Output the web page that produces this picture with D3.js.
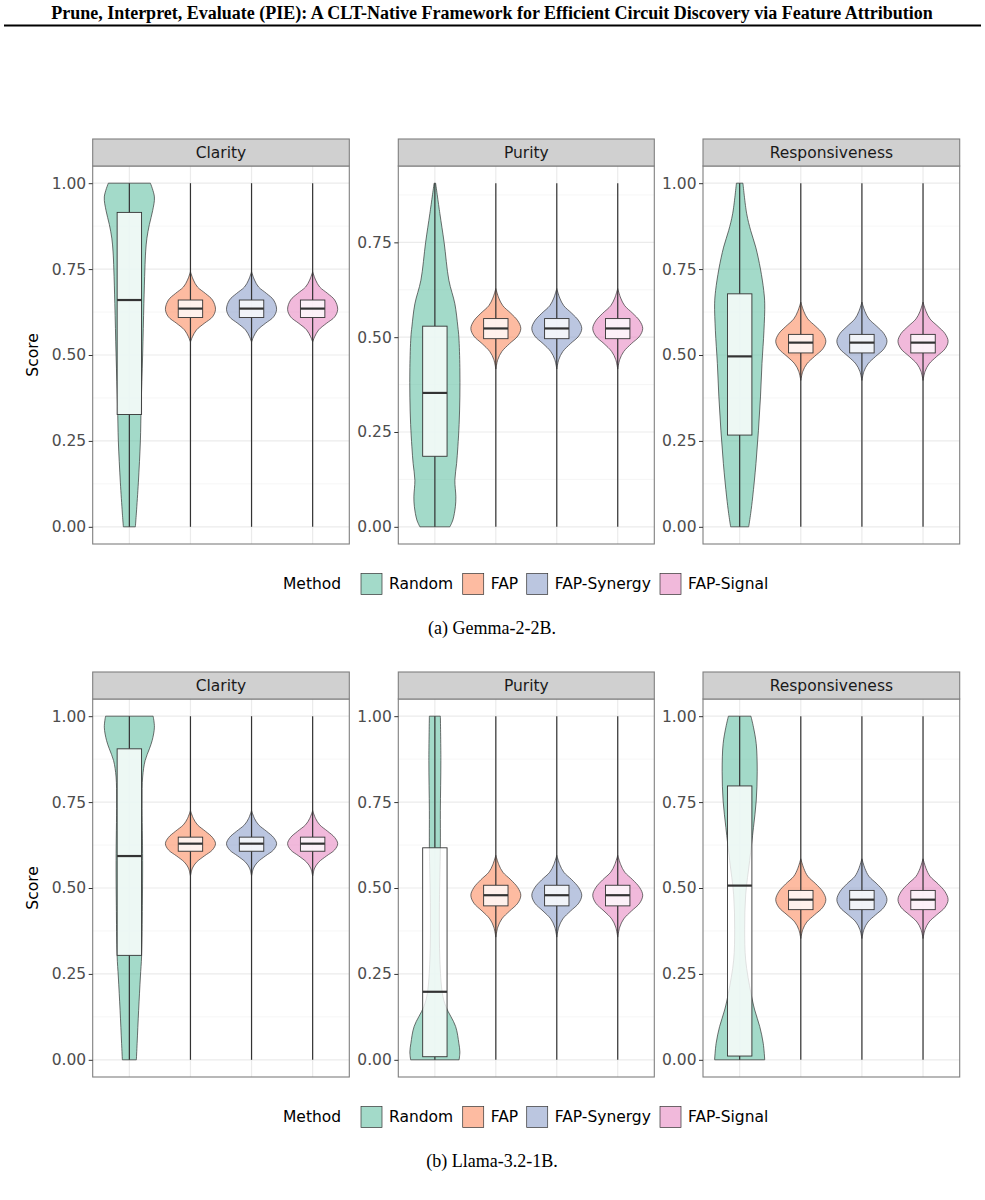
<!DOCTYPE html>
<html>
<head>
<meta charset="utf-8">
<script src="https://d3js.org/d3.v7.min.js"></script>
<style>
body { margin: 0; background: #fff; }
svg text { font-family: "DejaVu Sans", sans-serif; }
svg text.serif { font-family: "Liberation Serif", "Times New Roman", serif; }
</style>
</head>
<body>
<svg id="chart" width="985" height="1200"></svg>
<script>
// ---- data ----
const methods = ["Random", "FAP", "FAP-Synergy", "FAP-Signal"];
const metrics = ["Clarity", "Purity", "Responsiveness"];
const captions = ["(a) Gemma-2-2B.", "(b) Llama-3.2-1B."];
const fills = ["#66C2A5", "#FC8D62", "#8DA0CB", "#E78AC3"];
const yTicks = [0, 0.25, 0.5, 0.75, 1];

// box stats per method: [q1, median, q3, min, max]
const gemmaClarityBox = [[0.327,0.660,0.915,0,1],[0.609,0.635,0.660,0,1],[0.609,0.635,0.660,0,1],[0.609,0.635,0.660,0,1]];
const gemmaPurityBox  = [[0.186,0.353,0.529,0,0.906],[0.496,0.523,0.549,0,0.906],[0.496,0.523,0.549,0,0.906],[0.496,0.523,0.549,0,0.906]];
const gemmaRespBox    = [[0.267,0.496,0.678,0,1],[0.506,0.536,0.560,0,1],[0.506,0.536,0.560,0,1],[0.506,0.536,0.560,0,1]];
const llamaClarityBox = [[0.304,0.593,0.905,0,1],[0.607,0.629,0.648,0,1],[0.607,0.629,0.648,0,1],[0.607,0.629,0.648,0,1]];
const llamaPurityBox  = [[0.009,0.198,0.617,0,1],[0.448,0.479,0.508,0,1],[0.448,0.479,0.508,0,1],[0.448,0.479,0.508,0,1]];
const llamaRespBox    = [[0.011,0.507,0.797,0,1],[0.437,0.466,0.493,0,1],[0.437,0.466,0.493,0,1],[0.437,0.466,0.493,0,1]];

// violin profiles: [score, relative density]
const gemmaClarityRandom = [[1.00,0.84],[0.96,1.0],[0.92,0.93],[0.88,0.8],[0.84,0.7],[0.80,0.65],[0.75,0.62],[0.65,0.58],[0.50,0.53],[0.35,0.47],[0.25,0.44],[0.13,0.36],[0.04,0.28],[0.00,0.24]];
const gemmaClarityFap = [[0.742,0],[0.718,0.12],[0.698,0.28],[0.679,0.6],[0.660,0.88],[0.633,1.0],[0.611,0.88],[0.592,0.55],[0.573,0.24],[0.553,0.08],[0.538,0]];
const gemmaPurityRandom = [[0.906,0.03],[0.826,0.2],[0.750,0.37],[0.650,0.56],[0.588,0.8],[0.527,0.92],[0.500,0.96],[0.420,1.0],[0.342,1.0],[0.270,0.97],[0.211,0.92],[0.167,0.87],[0.123,0.8],[0.079,0.84],[0.053,0.82],[0.018,0.72],[0.0,0.6]];
const gemmaPurityFap = [[0.628,0],[0.603,0.12],[0.583,0.28],[0.563,0.6],[0.543,0.88],[0.523,1.0],[0.503,0.88],[0.483,0.55],[0.462,0.24],[0.441,0.08],[0.416,0]];
const gemmaRespRandom = [[1.0,0.13],[0.911,0.28],[0.862,0.44],[0.814,0.64],[0.750,0.83],[0.688,0.96],[0.649,1.0],[0.572,0.97],[0.475,0.89],[0.378,0.83],[0.281,0.75],[0.184,0.65],[0.087,0.52],[0.039,0.44],[0.0,0.36]];
const gemmaRespFap = [[0.654,0],[0.627,0.12],[0.605,0.28],[0.583,0.6],[0.562,0.88],[0.540,1.0],[0.518,0.88],[0.496,0.55],[0.474,0.24],[0.452,0.08],[0.426,0]];
const llamaClarityRandom = [[1.00,0.95],[0.968,1.0],[0.929,0.91],[0.905,0.8],[0.871,0.63],[0.823,0.53],[0.750,0.51],[0.580,0.53],[0.45,0.52],[0.304,0.49],[0.241,0.44],[0.144,0.37],[0.048,0.31],[0.0,0.28]];
const llamaClarityFap = [[0.725,0],[0.702,0.12],[0.684,0.28],[0.665,0.6],[0.647,0.88],[0.629,1.0],[0.611,0.88],[0.593,0.55],[0.575,0.24],[0.558,0.08],[0.535,0]];
const llamaPurityRandom = [[1.0,0.22],[0.871,0.24],[0.726,0.22],[0.62,0.22],[0.436,0.18],[0.291,0.2],[0.194,0.3],[0.155,0.44],[0.097,0.83],[0.048,0.96],[0.023,1.0],[0.0,0.97]];
const llamaPurityFap = [[0.595,0],[0.568,0.12],[0.546,0.28],[0.524,0.6],[0.501,0.88],[0.479,1.0],[0.456,0.88],[0.433,0.55],[0.410,0.24],[0.386,0.08],[0.357,0]];
const llamaRespRandom = [[1.0,0.45],[0.968,0.55],[0.92,0.66],[0.84,0.7],[0.753,0.66],[0.676,0.55],[0.58,0.4],[0.48,0.24],[0.38,0.2],[0.29,0.24],[0.194,0.45],[0.145,0.6],[0.097,0.8],[0.048,0.94],[0.0,1.0]];
const llamaRespFap = [[0.585,0],[0.557,0.12],[0.534,0.28],[0.512,0.6],[0.489,0.88],[0.466,1.0],[0.444,0.88],[0.422,0.55],[0.401,0.24],[0.379,0.08],[0.353,0]];

const panels = [
  {row: 0, col: 0, box: gemmaClarityBox, violins: [gemmaClarityRandom, gemmaClarityFap, gemmaClarityFap, gemmaClarityFap]},
  {row: 0, col: 1, box: gemmaPurityBox,  violins: [gemmaPurityRandom, gemmaPurityFap, gemmaPurityFap, gemmaPurityFap]},
  {row: 0, col: 2, box: gemmaRespBox,    violins: [gemmaRespRandom, gemmaRespFap, gemmaRespFap, gemmaRespFap]},
  {row: 1, col: 0, box: llamaClarityBox, violins: [llamaClarityRandom, llamaClarityFap, llamaClarityFap, llamaClarityFap]},
  {row: 1, col: 1, box: llamaPurityBox,  violins: [llamaPurityRandom, llamaPurityFap, llamaPurityFap, llamaPurityFap]},
  {row: 1, col: 2, box: llamaRespBox,    violins: [llamaRespRandom, llamaRespFap, llamaRespFap, llamaRespFap]}
];

// ---- layout ----
const svg = d3.select("#chart");
const panelX = [[92.7, 349.3], [398.3, 654.3], [703, 959.7]];
const rowTop = [139, 672];
const stripH = 27, plotH = 378;
const color = d3.scaleOrdinal().domain(methods).range(fills);

// header
svg.append("text").attr("class", "serif")
  .attr("x", 492).attr("y", 19)
  .attr("text-anchor", "middle")
  .style("font-weight", "bold").style("font-size", "18px")
  .text("Prune, Interpret, Evaluate (PIE): A CLT-Native Framework for Efficient Circuit Discovery via Feature Attribution");
svg.append("line").attr("x1", 4).attr("x2", 981).attr("y1", 25.5).attr("y2", 25.5)
  .attr("stroke", "#000").attr("stroke-width", 1.8);

panels.forEach(function(p) {
  const x0 = panelX[p.col][0], x1 = panelX[p.col][1];
  const top = rowTop[p.row] + stripH, bottom = rowTop[p.row] + stripH + plotH;
  const lo = d3.min(p.box, d => d[3]), hi = d3.max(p.box, d => d[4]);
  const pad = (hi - lo) * 0.05;
  const y = d3.scaleLinear().domain([lo - pad, hi + pad]).range([bottom, top]);
  const x = d3.scalePoint().domain(methods).range([x0, x1]).padding(0.6);
  const step = x.step();
  const w = d3.scaleLinear().domain([0, 1]).range([0, step * 0.41]);
  const g = svg.append("g");

  g.append("rect").attr("x", x0).attr("y", top).attr("width", x1 - x0).attr("height", plotH).attr("fill", "#fff");

  // grid
  const majors = yTicks.filter(t => t >= y.domain()[0] && t <= y.domain()[1]);
  const minors = d3.range(0.125, 1.2, 0.25).filter(t => t >= y.domain()[0] && t <= y.domain()[1]);
  g.selectAll(".minor").data(minors).enter().append("line")
    .attr("x1", x0).attr("x2", x1).attr("y1", d => y(d)).attr("y2", d => y(d))
    .attr("stroke", "#F2F2F2").attr("stroke-width", 0.7);
  g.selectAll(".major").data(majors).enter().append("line")
    .attr("x1", x0).attr("x2", x1).attr("y1", d => y(d)).attr("y2", d => y(d))
    .attr("stroke", "#EBEBEB").attr("stroke-width", 1.2);
  g.selectAll(".vgrid").data(methods).enter().append("line")
    .attr("x1", d => x(d)).attr("x2", d => x(d)).attr("y1", top).attr("y2", bottom)
    .attr("stroke", "#EBEBEB").attr("stroke-width", 1.2);

  // violins
  methods.forEach(function(m, i) {
    const cx = x(m);
    const prof = p.violins[i].slice().sort((a, b) => a[0] - b[0]);
    const area = d3.area()
      .y(d => y(d[0]))
      .x0(d => cx - w(d[1]))
      .x1(d => cx + w(d[1]))
      .curve(d3.curveCatmullRom.alpha(0.5));
    g.append("path").attr("d", area(prof))
      .attr("fill", color(m)).attr("fill-opacity", 0.6)
      .attr("stroke", "#333").attr("stroke-width", 0.7);
  });

  // boxes
  methods.forEach(function(m, i) {
    const cx = x(m), b = p.box[i], bw = step * 0.4;
    g.append("line").attr("x1", cx).attr("x2", cx).attr("y1", y(b[4])).attr("y2", y(b[2]))
      .attr("stroke", "#333").attr("stroke-width", 1.2);
    g.append("line").attr("x1", cx).attr("x2", cx).attr("y1", y(b[0])).attr("y2", y(b[3]))
      .attr("stroke", "#333").attr("stroke-width", 1.2);
    g.append("rect").attr("x", cx - bw / 2).attr("y", y(b[2]))
      .attr("width", bw).attr("height", y(b[0]) - y(b[2]))
      .attr("fill", "#fff").attr("fill-opacity", 0.8)
      .attr("stroke", "#333").attr("stroke-width", 0.9);
    g.append("line").attr("x1", cx - bw / 2).attr("x2", cx + bw / 2)
      .attr("y1", y(b[1])).attr("y2", y(b[1]))
      .attr("stroke", "#333").attr("stroke-width", 2.2);
  });

  // border + strip
  g.append("rect").attr("x", x0).attr("y", top).attr("width", x1 - x0).attr("height", plotH)
    .attr("fill", "none").attr("stroke", "#7F7F7F").attr("stroke-width", 1.1);
  g.append("rect").attr("x", x0).attr("y", rowTop[p.row]).attr("width", x1 - x0).attr("height", stripH)
    .attr("fill", "#D0D0D0").attr("stroke", "#7F7F7F").attr("stroke-width", 1.1);
  g.append("text").attr("x", (x0 + x1) / 2).attr("y", rowTop[p.row] + stripH / 2)
    .attr("text-anchor", "middle").attr("dominant-baseline", "central")
    .style("font-size", "15.5px").attr("fill", "#1A1A1A").text(metrics[p.col]);

  // y axis
  const ax = g.append("g").attr("transform", "translate(" + x0 + ",0)")
    .call(d3.axisLeft(y).tickValues(majors).tickFormat(d3.format(".2f")).tickSize(4).tickPadding(2.5));
  ax.select(".domain").remove();
  ax.selectAll(".tick line").attr("stroke", "#333");
  ax.selectAll(".tick text").attr("fill", "#4D4D4D").style("font-size", "15.5px")
    .style("font-family", "'DejaVu Sans', sans-serif");

  if (p.col === 0) {
    g.append("text").attr("transform", "translate(38," + ((top + bottom) / 2) + ") rotate(-90)")
      .attr("text-anchor", "middle").style("font-size", "15.5px").attr("fill", "#000").text("Score");
  }
});

// legends and captions
const keyX = [361, 462.7, 526.7, 660];
[0, 1].forEach(function(r) {
  const off = r * 533;
  const lg = svg.append("g");
  lg.append("text").attr("x", 283).attr("y", 589 + off).style("font-size", "15.5px").text("Method");
  methods.forEach(function(m, i) {
    lg.append("rect").attr("x", keyX[i]).attr("y", 573.5 + off).attr("width", 21).attr("height", 21)
      .attr("fill", color(m)).attr("fill-opacity", 0.6).attr("stroke", "#333").attr("stroke-width", 0.7);
    lg.append("text").attr("x", keyX[i] + 28).attr("y", 589 + off).style("font-size", "15.5px").text(m);
  });
  svg.append("text").attr("class", "serif").attr("x", 492).attr("y", 634 + off)
    .attr("text-anchor", "middle").style("font-size", "18px").text(captions[r]);
});
</script>
</body>
</html>
